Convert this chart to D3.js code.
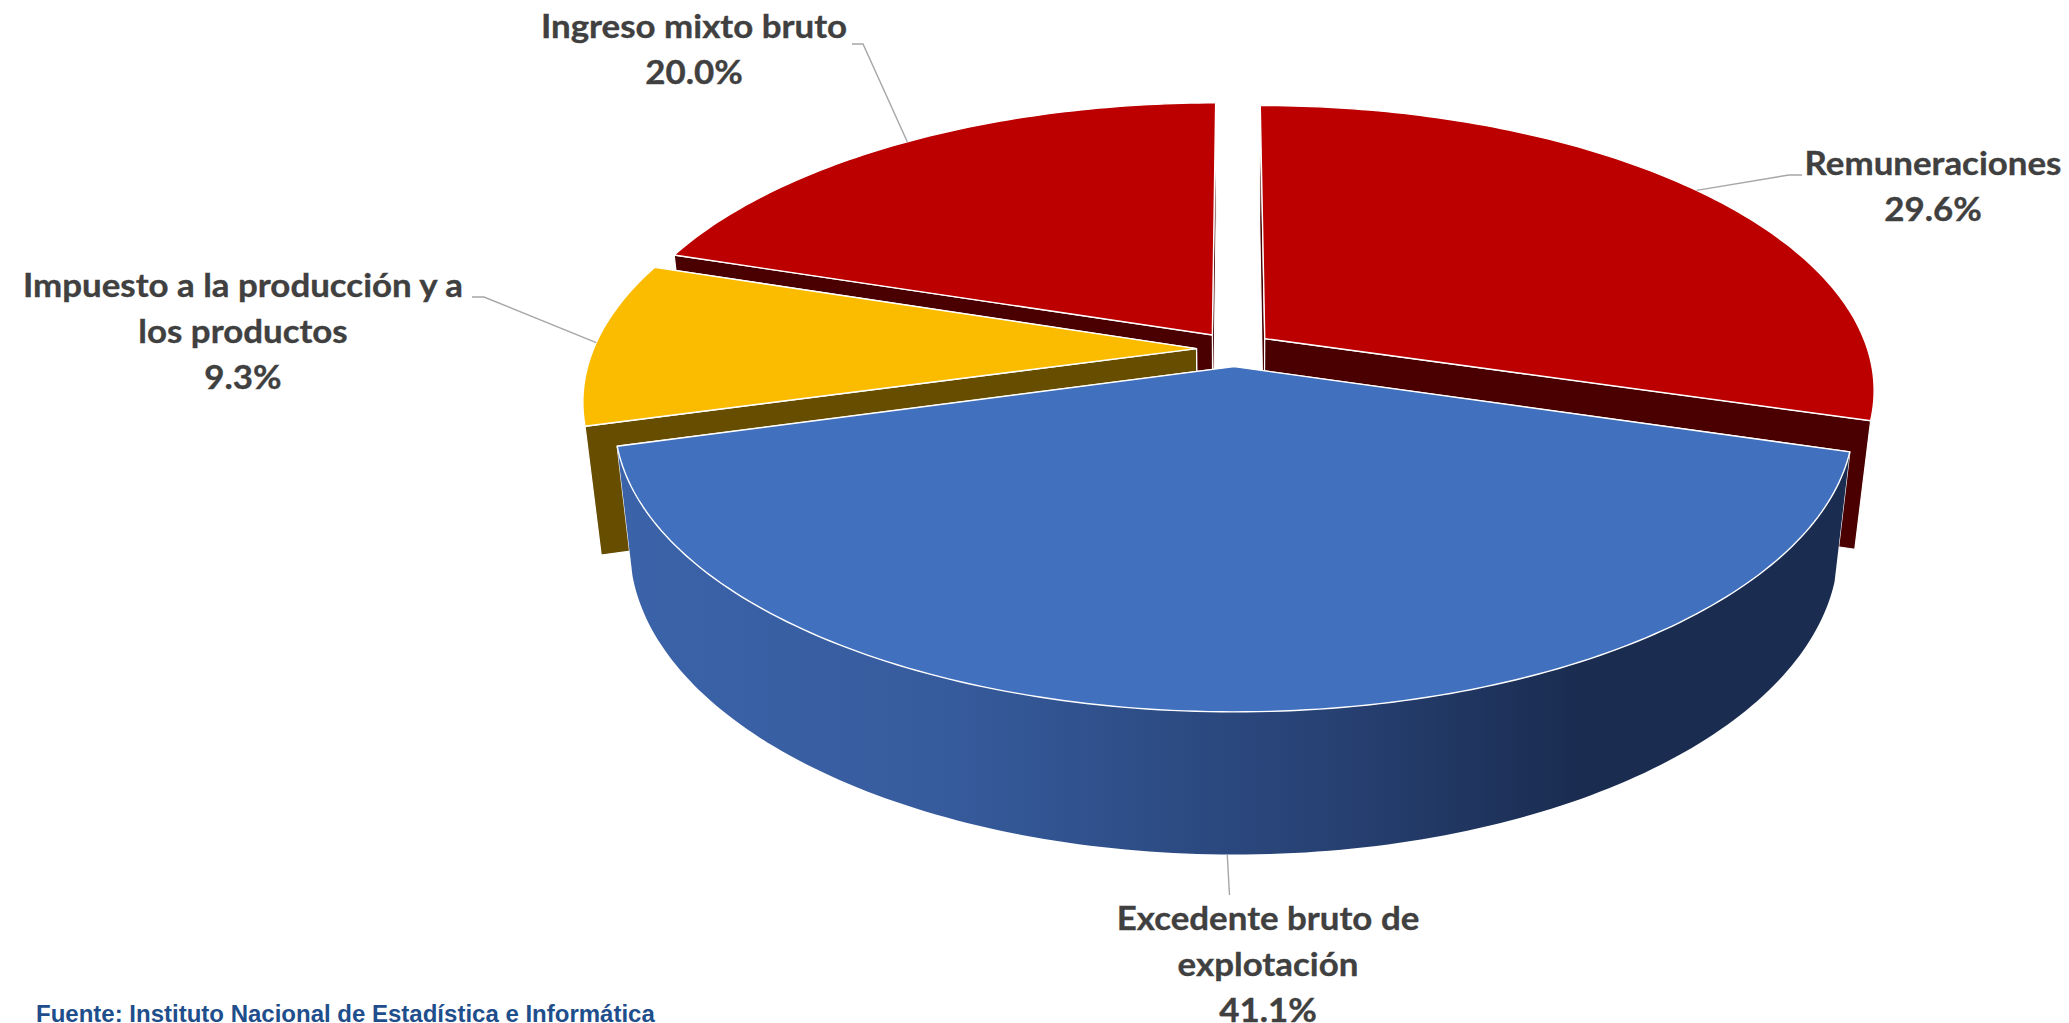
<!DOCTYPE html>
<html><head><meta charset="utf-8"><script src="https://d3js.org/d3.v7.min.js"></script>
<style>html,body{margin:0;padding:0;background:#fff;overflow:hidden}</style></head>
<body><svg id="c" width="2069" height="1023"></svg>
<script>
const categories = ["Remuneraciones","Excedente bruto de explotación","Impuesto a la producción y a los productos","Ingreso mixto bruto"];
const values = [29.6,41.1,9.3,20.0];
const labelLines = [["Remuneraciones"],["Excedente bruto de","explotación"],["Impuesto a la producción y a","los productos"],["Ingreso mixto bruto"]];
const topColors = ["#BC0000","#4170BF","#FBBC00","#BC0000"];
const wallColors = ["#4A0000","#1A2C50","#664D00","#4A0000"];

const W=2069,H=1023;
const svg=d3.select("#c");
const cam={cx:1234.5,cy:349,A:603,B:277.5,k:0.176,explode:0.063};
const low={A:588,B:291,D:125};

const pie=d3.pie().sort(null).value((d,i)=>values[i]);
const arcs=pie(categories);

function proj(X,Y,bottom){
  const w=1+cam.k*Y;
  return bottom? [cam.cx+low.A*X/w, cam.cy+low.D-low.B*Y/w] : [cam.cx+cam.A*X/w, cam.cy-cam.B*Y/w];
}
function pt(a,theta,r,bottom){
  const m=(a.startAngle+a.endAngle)/2;
  return proj(cam.explode*Math.sin(m)+r*Math.sin(theta), cam.explode*Math.cos(m)+r*Math.cos(theta), bottom);
}
const line=d3.line().curve(d3.curveLinear);
function rim(a,bottom){
  const n=Math.max(8,Math.ceil((a.endAngle-a.startAngle)*60));
  return d3.range(n+1).map(i=>pt(a,a.startAngle+(a.endAngle-a.startAngle)*i/n,1,bottom));
}

const defs=svg.append("defs");
const sideStops=[[0,"#3B63A9"],[0.25,"#375C9E"],[0.42,"#2E4E88"],[0.6,"#263F70"],[0.78,"#1A2C50"],[1,"#1A2C50"]];
const grad=defs.append("linearGradient").attr("id","side").attr("gradientUnits","userSpaceOnUse")
  .attr("x1",620).attr("x2",1850).attr("y1",0).attr("y2",0);
grad.selectAll("stop").data(sideStops).join("stop").attr("offset",d=>d[0]).attr("stop-color",d=>d[1]);

const order=[3,0,2,1];
order.forEach(i=>{
  const a=arcs[i], g=svg.append("g").attr("class","slice");
  const radial=theta=>[pt(a,theta,0,false),pt(a,theta,1,false),pt(a,theta,1,true),pt(a,theta,0,true)];
  const wallStyle=s=>s.attr("fill",wallColors[i]).attr("stroke","#fff").attr("stroke-width",1.2).attr("stroke-linejoin","round");
  // the wall facing the viewer goes last: the one whose rim lies lower on the page
  const walls=[a.startAngle,a.endAngle].sort((p,q)=>Math.cos(q)-Math.cos(p));
  walls.forEach(th=>wallStyle(g.append("path").attr("d",line(radial(th))+"Z")));
  if(i===1){
    const sideD=line(rim(a,false).concat(rim(a,true).reverse()))+"Z";
    g.append("path").attr("d",sideD).attr("fill","url(#side)");
  }
  const topD=line([pt(a,0,0,false)].concat(rim(a,false)))+"Z";
  g.append("path").attr("d",topD).attr("fill",topColors[i]).attr("stroke","#fff").attr("stroke-width",1.4).attr("stroke-linejoin","round");
});

// leader lines start at the rim at each slice's middle angle
const leaderEnds=[
  [[1789,175],[1802,175]],
  [[1229.5,895]],
  [[484,297],[472,297]],
  [[863,44],[852,44]]
];
arcs.forEach((a,i)=>{
  const m=(a.startAngle+a.endAngle)/2;
  const s=pt(a,m,1,i===1);
  svg.append("path").attr("d",line([s].concat(leaderEnds[i]))).attr("fill","none").attr("stroke","#A6A6A6").attr("stroke-width",1.4);
});

const labelPos=[[1933,175],[1268,930],[243,297],[694,38]];
const lineGap=46;
const stretchX=1.09;
const fmt=d3.format(".1f");
arcs.forEach((a,i)=>{
  const lines=labelLines[i].concat(fmt(values[i])+"%");
  const t=svg.append("text").attr("text-anchor","middle").attr("fill","#404040").attr("stroke","#404040").attr("stroke-width",0.35)
    .attr("font-family","Lato, Carlito, sans-serif").attr("font-weight",700).attr("font-size",32)
    .attr("transform",`translate(${labelPos[i][0]},0) scale(${stretchX},1)`);
  lines.forEach((l,j)=>t.append("tspan").attr("x",0).attr("y",labelPos[i][1]+j*lineGap).text(l));
});
svg.append("text").attr("x",36).attr("y",1022).attr("fill","#1F4E8C")
  .attr("font-family","Liberation Sans, Arial, sans-serif").attr("font-weight",700).attr("font-size",24)
  .text("Fuente: Instituto Nacional de Estadística e Informática");
</script></body></html>
